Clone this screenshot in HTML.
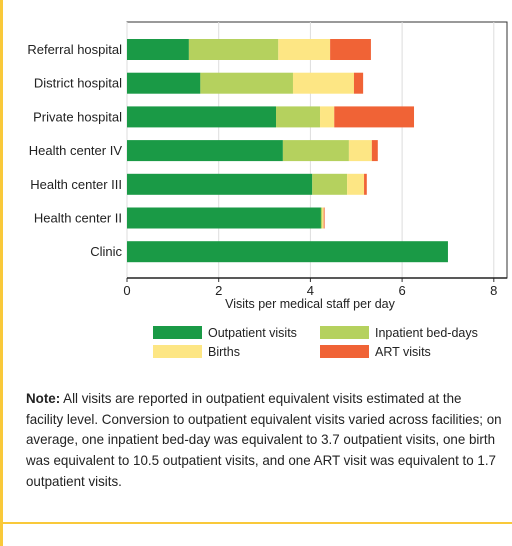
<!DOCTYPE html>
<html><head><meta charset="utf-8"><style>
body{margin:0;width:512px;height:546px;background:#fff;position:relative;overflow:hidden;font-family:"Liberation Sans",sans-serif;}
#lb{position:absolute;left:0;top:0;width:3px;height:546px;background:#f9c93a;}
#hl{position:absolute;left:0;top:522px;width:512px;height:2px;background:#f9c93a;}
#note{position:absolute;left:26px;top:388px;width:600px;font-size:14px;line-height:20.7px;color:#222;white-space:nowrap;transform:scaleX(0.955);transform-origin:0 0;}
</style></head><body>
<div id="lb"></div>
<div id="hl"></div>
<svg id="chart" width="512" height="380" style="position:absolute;left:0;top:0"></svg>
<div id="note"><b>Note:</b> All visits are reported in outpatient equivalent visits estimated at the<br>facility level. Conversion to outpatient equivalent visits varied across facilities; on<br>average, one inpatient bed-day was equivalent to 3.7 outpatient visits, one birth<br>was equivalent to 10.5 outpatient visits, and one ART visit was equivalent to 1.7<br>outpatient visits.</div>
<script>
const categories=["Referral hospital","District hospital","Private hospital","Health center IV","Health center III","Health center II","Clinic"];
const outpatient=[1.35,1.6,3.25,3.4,4.04,4.23,7.0];
const inpatient=[1.95,2.02,0.96,1.44,0.76,0.03,0];
const births=[1.13,1.33,0.31,0.5,0.37,0.03,0];
const art=[0.89,0.2,1.74,0.13,0.06,0.02,0];
const seriesNames=["Outpatient visits","Inpatient bed-days","Births","ART visits"];
const ticks=[0,2,4,6,8];
const colors=["#1a9a46","#b5d15e","#fde684","#f06336"];
const NS="http://www.w3.org/2000/svg";
const svg=document.getElementById('chart');
const x0=127,pxPer=45.85,plotTop=22,plotBottom=278,plotRight=507;
const xs=v=>x0+v*pxPer;
const rowY=i=>39+i*33.7;
function mk(t,a){const e=document.createElementNS(NS,t);for(const k in a)e.setAttribute(k,a[k]);svg.appendChild(e);return e;}
let e=mk('rect',{x:x0,y:plotTop,width:plotRight-x0,height:plotBottom-plotTop,fill:'none',stroke:'#333','stroke-width':1});


ticks.forEach(t=>{
 let g=mk('line',{x1:xs(t),x2:xs(t),y1:plotTop,y2:plotBottom,stroke:'#ddd','stroke-width':1});
 
 
 let tk=mk('line',{x1:xs(t),x2:xs(t),y1:plotBottom,y2:plotBottom+4,stroke:'#333'});
 
 
 let l=mk('text',{x:xs(t),y:plotBottom+17,'text-anchor':'middle','font-size':13,fill:'#222'});
 l.textContent=t;
 
 
});
const series=[outpatient,inpatient,births,art];
categories.forEach((c,i)=>{
 let acc=0;
 series.forEach((s,k)=>{
  if(s[i]>0){
   let r=mk('rect',{x:xs(acc),y:rowY(i),width:s[i]*pxPer,height:21,fill:colors[k]});
   
   
  }
  acc+=s[i];
 });
 let l=mk('text',{x:122,y:rowY(i)+15,'text-anchor':'end','font-size':13,fill:'#222'});
 l.textContent=c;
 
 
});
e=mk('line',{x1:x0,x2:plotRight,y1:plotBottom,y2:plotBottom,stroke:'#222','stroke-width':1.5});


let at=mk('text',{x:310,y:308,'text-anchor':'middle','font-size':12.5,fill:'#222'});
at.textContent="Visits per medical staff per day";


const legPos=[[153,326],[320,326],[153,345],[320,345]];
seriesNames.forEach((n,k)=>{
 let r=mk('rect',{x:legPos[k][0],y:legPos[k][1],width:49,height:13,fill:colors[k]});
 
 
 let t=mk('text',{x:legPos[k][0]+55,y:legPos[k][1]+11,'font-size':12.5,fill:'#222'});
 t.textContent=n;
 
 
});
</script>
</body></html>
